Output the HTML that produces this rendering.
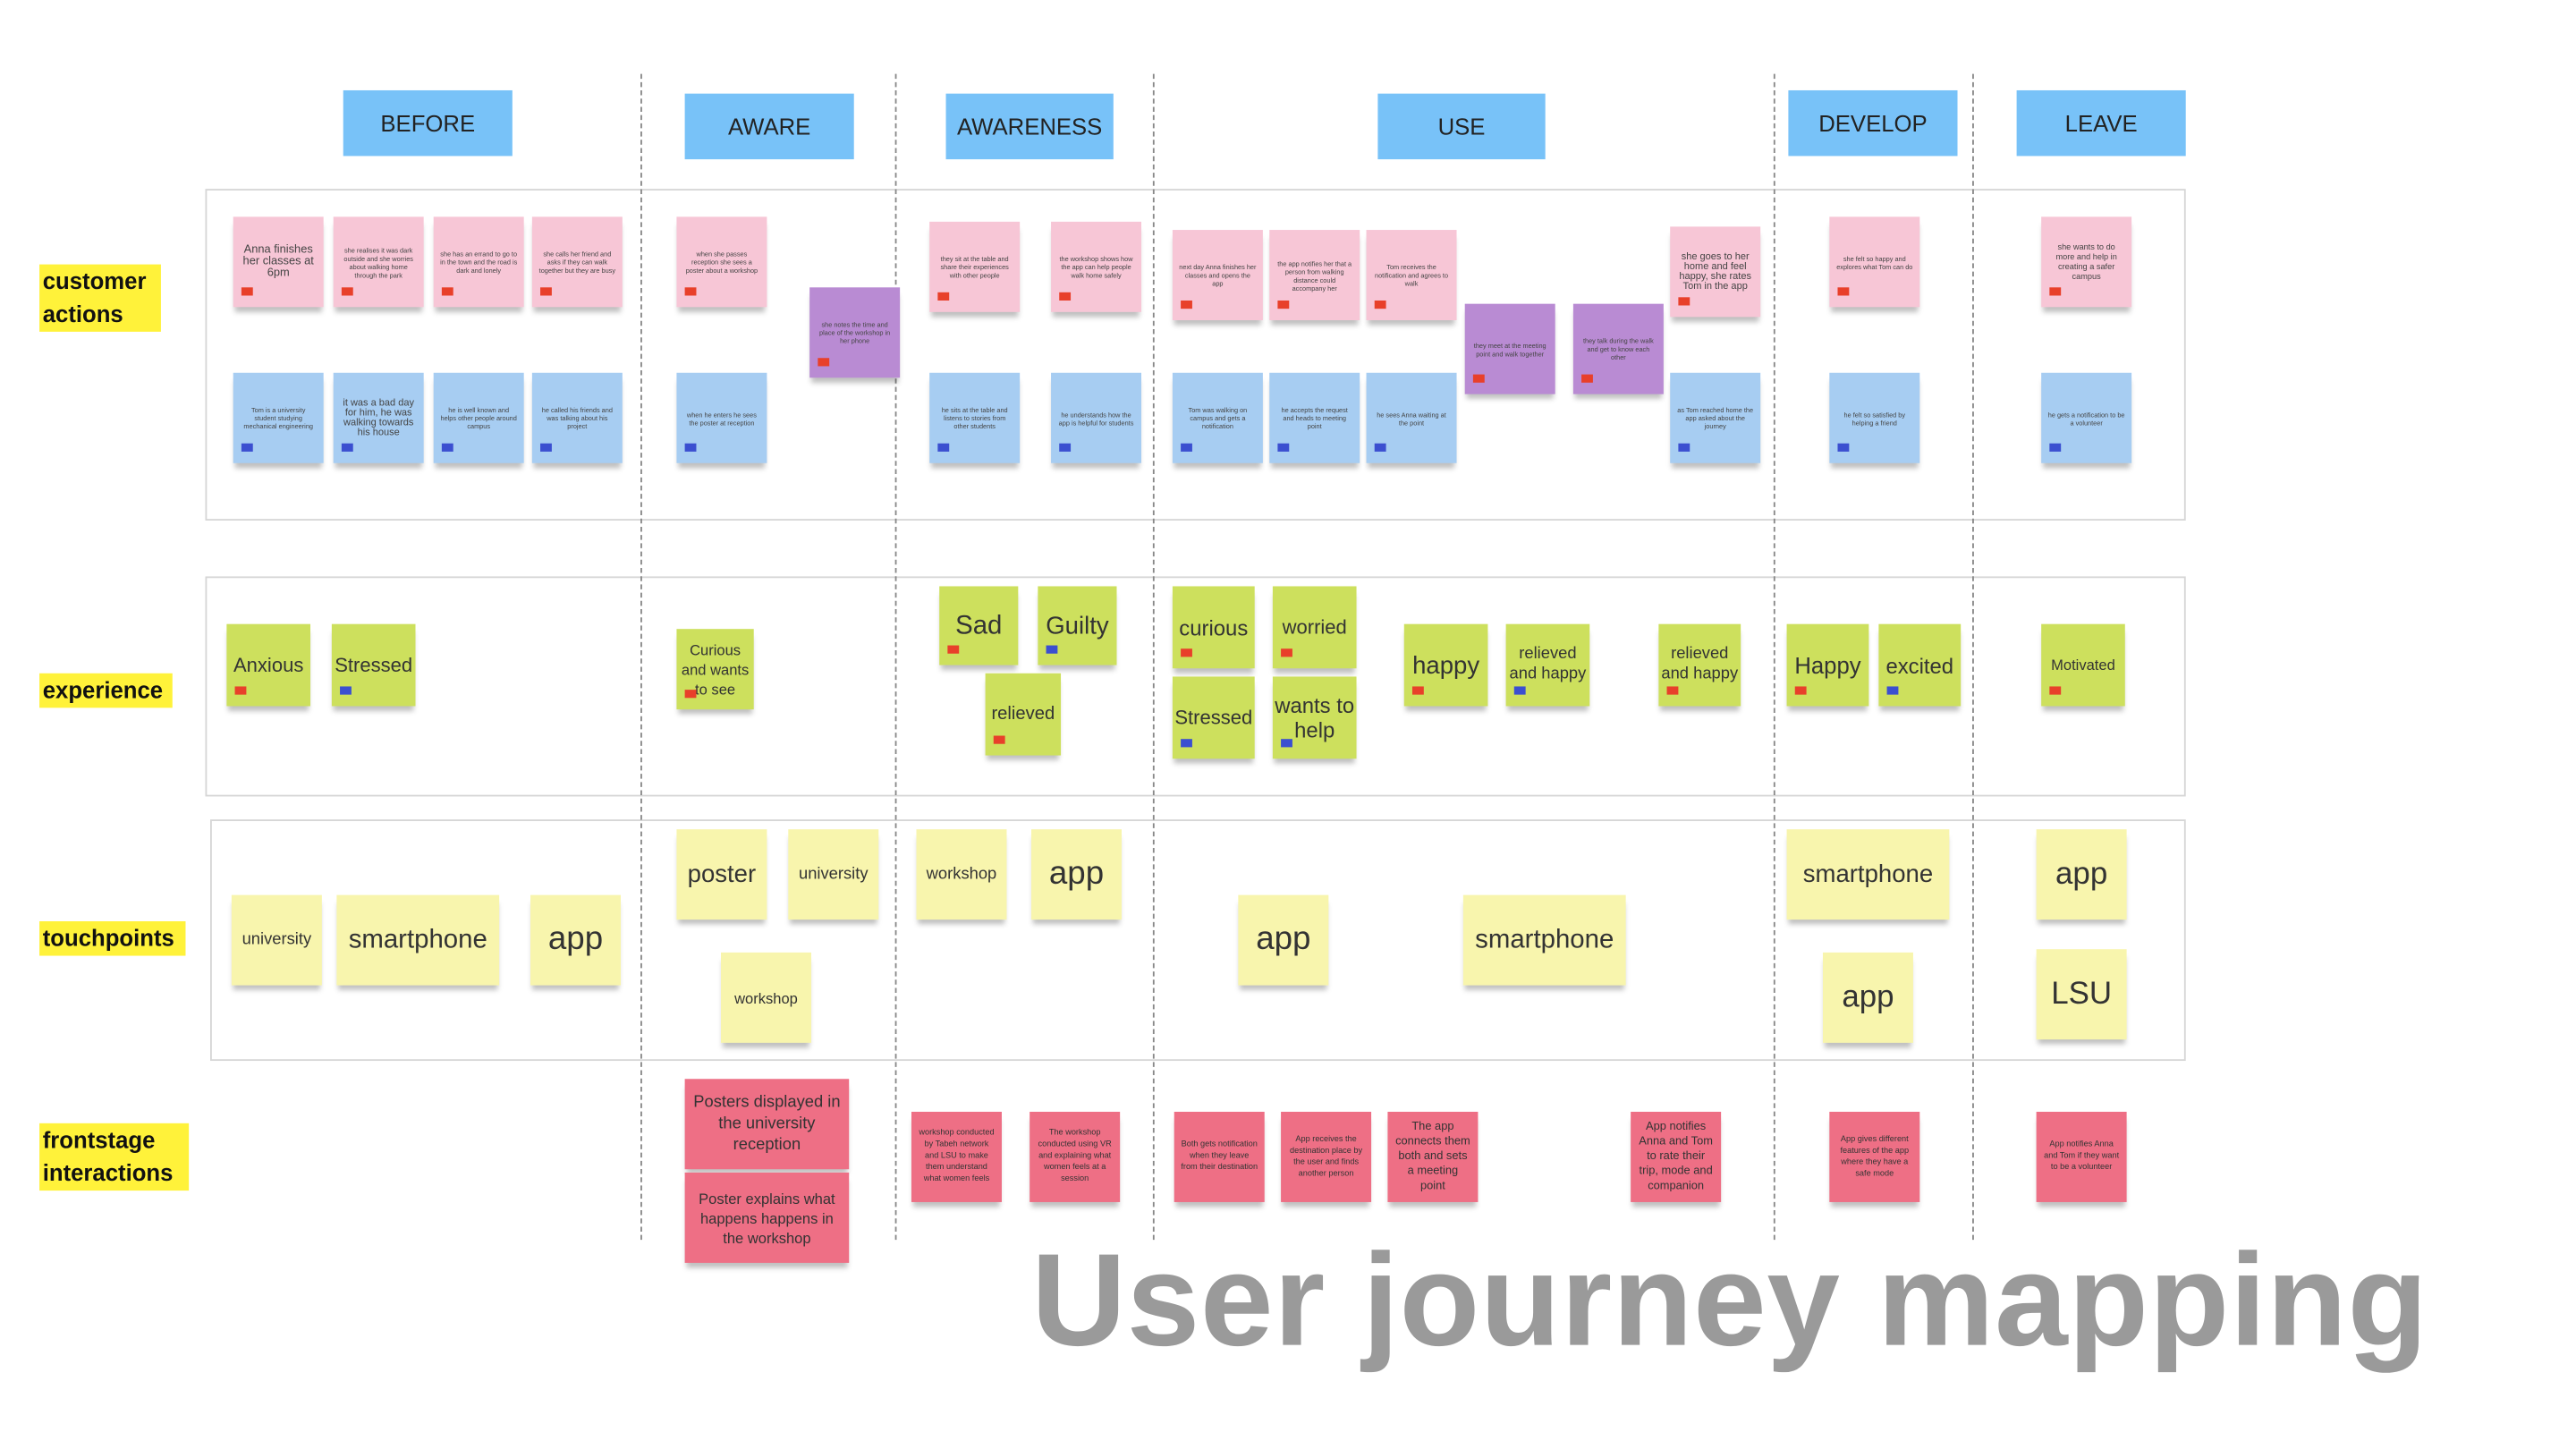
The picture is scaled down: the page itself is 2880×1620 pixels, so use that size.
<!DOCTYPE html>
<html><head><meta charset="utf-8"><style>
html,body{margin:0;padding:0;background:#fff;}
#w{width:2880px;height:1620px;overflow:hidden;position:relative;}
#s{position:absolute;left:0;top:0;width:1570px;height:883px;transform:scale(1.836);transform-origin:0 0;font-family:"Liberation Sans",sans-serif;}
#s div{position:absolute;box-sizing:border-box;}
.h{background:#78c2f8;color:#222;font-size:14px;display:flex;align-items:center;justify-content:center;}
.v{border-left:1px dashed #888;width:0;top:45px;height:710px;}
.r{border:1.5px solid #d6d6d6;}
.l{background:#fff23a;font-weight:bold;font-size:14px;line-height:20px;padding:0 2px;color:#111;}
.p,.b,.u,.g,.y,.f{display:flex;align-items:center;justify-content:center;text-align:center;box-shadow:0 4px 3px -1px rgba(0,0,0,.25);color:#444;overflow:hidden;}
.p{background:#f7c6d6;width:55px;height:55px;font-size:4px;padding:4px;}
.b{background:#a7cdf2;width:55px;height:55px;font-size:4px;padding:4px;}
.u{background:#b98bd3;width:55px;height:55px;font-size:4px;padding:4px;}
.g{background:#cde05d;width:51px;height:50px;font-size:12px;line-height:15px;color:#333;}
.y{background:#f8f5ad;width:55px;height:55px;font-size:18px;color:#333;}
.f{background:#ee6f85;width:55px;height:55px;font-size:5px;line-height:7px;padding:4px;color:#333;}
.t{width:7px;height:5px;background:#e8402a;bottom:7px;left:5px;}
.tb{width:7px;height:5px;background:#3b4fd0;bottom:7px;left:5px;}
</style></head><body><div id="w"><div id="s">

<div class="h" style="left:209px;top:55px;width:103px;height:40px">BEFORE</div>
<div class="h" style="left:417px;top:57px;width:103px;height:40px">AWARE</div>
<div class="h" style="left:576px;top:57px;width:102px;height:40px">AWARENESS</div>
<div class="h" style="left:839px;top:57px;width:102px;height:40px">USE</div>
<div class="h" style="left:1089px;top:55px;width:103px;height:40px">DEVELOP</div>
<div class="h" style="left:1228px;top:55px;width:103px;height:40px">LEAVE</div>

<div class="r" style="left:125px;top:115px;width:1206px;height:202px"></div>
<div class="r" style="left:125px;top:351px;width:1206px;height:134px"></div>
<div class="r" style="left:128px;top:499px;width:1203px;height:147px"></div>

<div class="v" style="left:390px"></div>
<div class="v" style="left:545px"></div>
<div class="v" style="left:702px"></div>
<div class="v" style="left:1080px"></div>
<div class="v" style="left:1201px"></div>

<div class="l" style="left:24px;top:161px;width:74px;height:41px">customer actions</div>
<div class="l" style="left:24px;top:410px;width:81px;height:21px">experience</div>
<div class="l" style="left:24px;top:561px;width:89px;height:21px">touchpoints</div>
<div class="l" style="left:24px;top:684px;width:91px;height:41px">frontstage interactions</div>

<!-- pink -->
<div class="p" style="left:142px;top:132px;font-size:7px">Anna finishes her classes at 6pm<div class="t"></div></div>
<div class="p" style="left:203px;top:132px">she realises it was dark outside and she worries about walking home through the park<div class="t"></div></div>
<div class="p" style="left:264px;top:132px">she has an errand to go to in the town and the road is dark and lonely<div class="t"></div></div>
<div class="p" style="left:324px;top:132px">she calls her friend and asks if they can walk together but they are busy<div class="t"></div></div>
<div class="p" style="left:412px;top:132px">when she passes reception she sees a poster about a workshop<div class="t"></div></div>
<div class="p" style="left:566px;top:135px">they sit at the table and share their experiences with other people<div class="t"></div></div>
<div class="p" style="left:640px;top:135px">the workshop shows how the app can help people walk home safely<div class="t"></div></div>
<div class="p" style="left:714px;top:140px">next day Anna finishes her classes and opens the app<div class="t"></div></div>
<div class="p" style="left:773px;top:140px">the app notifies her that a person from walking distance could accompany her<div class="t"></div></div>
<div class="p" style="left:832px;top:140px">Tom receives the notification and agrees to walk<div class="t"></div></div>
<div class="p" style="left:1017px;top:138px;font-size:6px">she goes to her home and feel happy, she rates Tom in the app<div class="t"></div></div>
<div class="p" style="left:1114px;top:132px">she felt so happy and explores what Tom can do<div class="t"></div></div>
<div class="p" style="left:1243px;top:132px;font-size:5px">she wants to do more and help in creating a safer campus<div class="t"></div></div>

<div class="u" style="left:493px;top:175px">she notes the time and place of the workshop in her phone<div class="t"></div></div>
<div class="u" style="left:892px;top:185px">they meet at the meeting point and walk together<div class="t"></div></div>
<div class="u" style="left:958px;top:185px">they talk during the walk and get to know each other<div class="t"></div></div>

<!-- blue -->
<div class="b" style="left:142px;top:227px">Tom is a university student studying mechanical engineering<div class="tb"></div></div>
<div class="b" style="left:203px;top:227px;font-size:6px">it was a bad day for him, he was walking towards his house<div class="tb"></div></div>
<div class="b" style="left:264px;top:227px">he is well known and helps other people around campus<div class="tb"></div></div>
<div class="b" style="left:324px;top:227px">he called his friends and was talking about his project<div class="tb"></div></div>
<div class="b" style="left:412px;top:227px">when he enters he sees the poster at reception<div class="tb"></div></div>
<div class="b" style="left:566px;top:227px">he sits at the table and listens to stories from other students<div class="tb"></div></div>
<div class="b" style="left:640px;top:227px">he understands how the app is helpful for students<div class="tb"></div></div>
<div class="b" style="left:714px;top:227px">Tom was walking on campus and gets a notification<div class="tb"></div></div>
<div class="b" style="left:773px;top:227px">he accepts the request and heads to meeting point<div class="tb"></div></div>
<div class="b" style="left:832px;top:227px">he sees Anna waiting at the point<div class="tb"></div></div>
<div class="b" style="left:1017px;top:227px">as Tom reached home the app asked about the journey<div class="tb"></div></div>
<div class="b" style="left:1114px;top:227px">he felt so satisfied by helping a friend<div class="tb"></div></div>
<div class="b" style="left:1243px;top:227px">he gets a notification to be a volunteer<div class="tb"></div></div>

<!-- green -->
<div class="g" style="left:138px;top:380px">Anxious<div class="t"></div></div>
<div class="g" style="left:202px;top:380px">Stressed<div class="tb"></div></div>
<div class="g" style="left:412px;top:383px;width:47px;height:49px;font-size:9px;line-height:12px">Curious and wants to see<div class="t"></div></div>
<div class="g" style="left:572px;top:357px;width:48px;height:48px;font-size:16px">Sad<div class="t"></div></div>
<div class="g" style="left:632px;top:357px;width:48px;height:48px;font-size:15px">Guilty<div class="tb"></div></div>
<div class="g" style="left:600px;top:410px;width:46px;height:50px;font-size:11px">relieved<div class="t"></div></div>
<div class="g" style="left:714px;top:357px;width:50px;font-size:13px">curious<div class="t"></div></div>
<div class="g" style="left:775px;top:357px;font-size:12px">worried<div class="t"></div></div>
<div class="g" style="left:714px;top:412px;width:50px">Stressed<div class="tb"></div></div>
<div class="g" style="left:775px;top:412px;font-size:13px">wants to help<div class="tb"></div></div>
<div class="g" style="left:855px;top:380px;font-size:15px">happy<div class="t"></div></div>
<div class="g" style="left:917px;top:380px;font-size:10px;line-height:12px">relieved and happy<div class="tb"></div></div>
<div class="g" style="left:1010px;top:380px;width:50px;font-size:10px;line-height:12px">relieved and happy<div class="t"></div></div>
<div class="g" style="left:1088px;top:380px;width:50px;font-size:14px">Happy<div class="t"></div></div>
<div class="g" style="left:1144px;top:380px;width:50px;font-size:13px">excited<div class="tb"></div></div>
<div class="g" style="left:1243px;top:380px;font-size:9px">Motivated<div class="t"></div></div>

<!-- touchpoints -->
<div class="y" style="left:141px;top:545px;font-size:10px">university</div>
<div class="y" style="left:205px;top:545px;width:99px;font-size:16px">smartphone</div>
<div class="y" style="left:323px;top:545px;font-size:20px">app</div>
<div class="y" style="left:412px;top:505px;font-size:15px">poster</div>
<div class="y" style="left:480px;top:505px;font-size:10px">university</div>
<div class="y" style="left:439px;top:580px;font-size:9px">workshop</div>
<div class="y" style="left:558px;top:505px;font-size:10px">workshop</div>
<div class="y" style="left:628px;top:505px;font-size:20px">app</div>
<div class="y" style="left:754px;top:545px;font-size:20px">app</div>
<div class="y" style="left:891px;top:545px;width:99px;font-size:16px">smartphone</div>
<div class="y" style="left:1088px;top:505px;width:99px;font-size:15px">smartphone</div>
<div class="y" style="left:1110px;top:580px;font-size:19px">app</div>
<div class="y" style="left:1240px;top:505px;font-size:19px">app</div>
<div class="y" style="left:1240px;top:578px;font-size:19px">LSU</div>

<!-- frontstage -->
<div class="f" style="left:417px;top:657px;width:100px;font-size:10px;line-height:13px">Posters displayed in the university reception</div>
<div class="f" style="left:417px;top:714px;width:100px;font-size:9px;line-height:12px">Poster explains what happens happens in the workshop</div>
<div class="f" style="left:555px;top:677px">workshop conducted by Tabeh network and LSU to make them understand what women feels</div>
<div class="f" style="left:627px;top:677px">The workshop conducted using VR and explaining what women feels at a session</div>
<div class="f" style="left:715px;top:677px">Both gets notification when they leave from their destination</div>
<div class="f" style="left:780px;top:677px">App receives the destination place by the user and finds another person</div>
<div class="f" style="left:845px;top:677px;font-size:7px;line-height:9px">The app connects them both and sets a meeting point</div>
<div class="f" style="left:993px;top:677px;font-size:7px;line-height:9px">App notifies Anna and Tom to rate their trip, mode and companion</div>
<div class="f" style="left:1114px;top:677px">App gives different features of the app where they have a safe mode</div>
<div class="f" style="left:1240px;top:677px">App notifies Anna and Tom if they want to be a volunteer</div>

<div style="left:628px;top:746px;font-size:80px;font-weight:bold;color:#9a9a9a;white-space:nowrap;line-height:92px;letter-spacing:0.3px">User journey mapping</div>

</div></div></body></html>
